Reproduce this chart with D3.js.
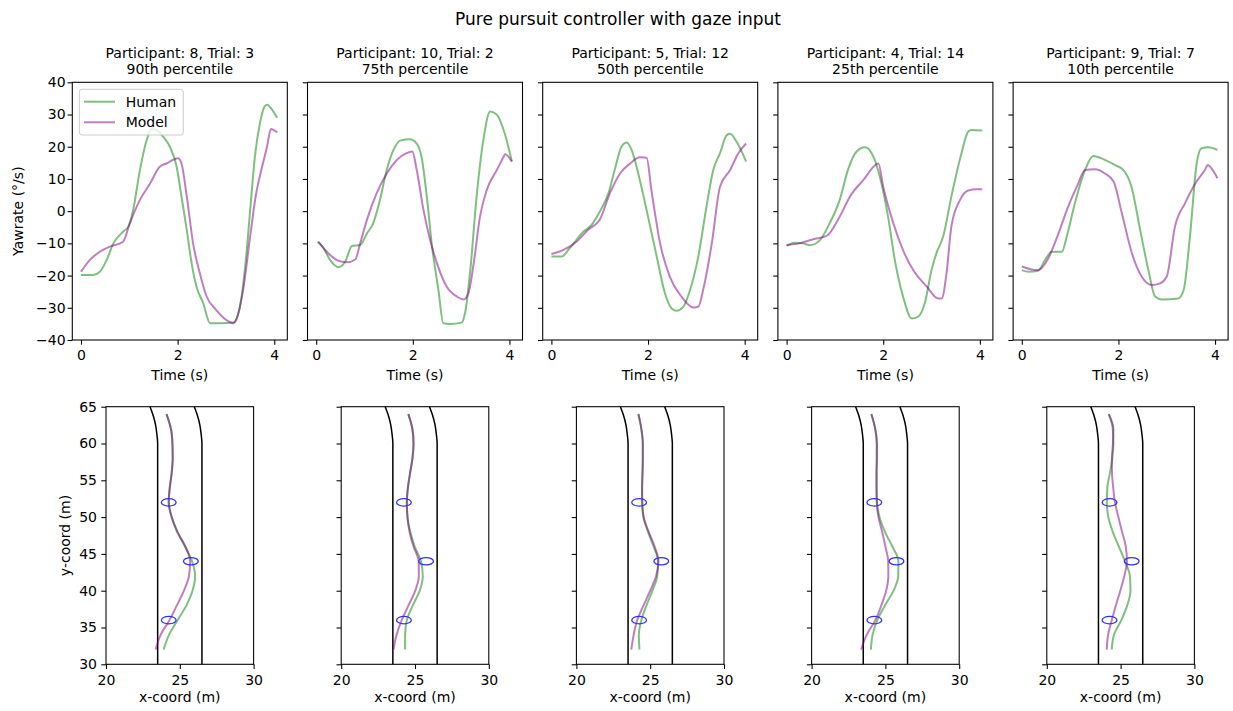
<!DOCTYPE html>
<html>
<head>
<meta charset="utf-8">
<script src="https://cdn.jsdelivr.net/npm/d3@7"></script>
<style>
  body { margin: 0; background: #fff; }
  svg text { font-family: "DejaVu Sans", sans-serif; fill: #000; }
</style>
</head>
<body>
<div id="chart"></div>
<script>
// --- data ---
var participants = [8, 10, 5, 4, 9];
var trials       = [3, 2, 12, 14, 7];
var percentiles  = ["90th", "75th", "50th", "25th", "10th"];

var timeTicks = [0, 2, 4];
var yawTicks  = [-40, -30, -20, -10, 0, 10, 20, 30, 40];
var xcoordTicks = [20, 25, 30];
var ycoordTicks = [30, 35, 40, 45, 50, 55, 60, 65];

// yaw rate traces [time (s), yawrate (deg/s)]
var humanYaw = [
  [[0,-19.8],[0.25,-19.8],[0.39,-18.8],[0.53,-15.2],[0.67,-10],[0.87,-6.4],[0.98,-4.8],[1.08,0.4],[1.22,12.8],[1.36,22.1],[1.46,25.5],[1.56,25.2],[1.70,23.1],[1.84,20],[1.98,13.8],[2.08,4.5],[2.19,-5.9],[2.29,-16.2],[2.39,-23.4],[2.53,-28.6],[2.67,-34.8],[2.88,-34.8],[3.15,-34.6],[3.29,-29.6],[3.40,-17],[3.50,0],[3.60,17],[3.70,27],[3.80,32.5],[3.86,33],[3.93,32],[4.06,29]],
  [[0.03,-9.5],[0.15,-11.5],[0.29,-15.2],[0.46,-17.4],[0.6,-15.7],[0.74,-10.8],[0.91,-10.5],[1.05,-6.9],[1.18,-3.8],[1.32,3.5],[1.46,12.8],[1.6,19],[1.74,21.9],[1.94,22.3],[2.08,21],[2.18,16.9],[2.29,4.5],[2.39,-10],[2.53,-24.5],[2.63,-34.8],[2.77,-35],[3.01,-34.6],[3.08,-31.7],[3.19,-18.2],[3.32,4.5],[3.46,22.1],[3.6,30.9],[3.74,29.9],[3.88,25.2],[4.05,15.4]],
  [[0,-14.1],[0.21,-14.1],[0.38,-11.5],[0.66,-6.4],[0.83,-4.3],[1.0,-0.2],[1.18,5.5],[1.31,12.8],[1.45,20],[1.56,21.3],[1.66,19],[1.83,9.7],[2.0,-1.7],[2.18,-14.1],[2.35,-25.5],[2.49,-30.2],[2.59,-30.9],[2.73,-29.7],[2.87,-24.5],[3.04,-14.1],[3.21,1.4],[3.35,12.8],[3.49,18],[3.63,23.6],[3.70,24],[3.83,21.6],[4.03,15.4]],
  [[0,-10.8],[0.17,-9.8],[0.34,-10],[0.48,-10.6],[0.69,-9],[0.89,-3.8],[1.1,3.5],[1.27,12.8],[1.45,18.5],[1.62,19.8],[1.76,18],[1.93,10.7],[2.1,-1.7],[2.24,-15.2],[2.41,-26.5],[2.59,-33.3],[2.72,-32.8],[2.86,-28.6],[3.0,-18.3],[3.1,-13.1],[3.24,-7.9],[3.41,4.5],[3.62,18],[3.76,24.7],[3.83,25.2],[4.05,25]],
  [[0,-18.3],[0.14,-18.8],[0.34,-18.5],[0.48,-15.2],[0.62,-12.6],[0.83,-12.6],[0.93,-7.9],[1.1,2.5],[1.31,12.8],[1.48,17.1],[1.65,16.4],[1.93,14.3],[2.1,12.8],[2.27,7.6],[2.45,-5.8],[2.62,-18.3],[2.76,-26.5],[2.9,-27.4],[3.24,-27.1],[3.35,-24.5],[3.48,-7.9],[3.62,14.8],[3.72,19.5],[3.86,19.8],[4.05,19]]
];
var modelYaw = [
  [[0,-18.8],[0.18,-15.2],[0.39,-12.6],[0.6,-11],[0.87,-9.5],[1.01,-3.8],[1.22,3.5],[1.43,8.6],[1.63,13.8],[1.77,14.8],[2.01,16.4],[2.08,14.8],[2.19,4.5],[2.32,-10],[2.46,-19.3],[2.6,-26.5],[2.8,-30.7],[3.01,-33.8],[3.15,-34.8],[3.22,-33.5],[3.35,-25],[3.5,-8],[3.62,5],[3.72,12],[3.85,20],[3.93,25.5],[4.06,24.4]],
  [[0.05,-9.5],[0.22,-12.6],[0.43,-15.2],[0.63,-15.9],[0.81,-15],[0.91,-10],[1.05,-2.7],[1.25,5.5],[1.46,11.7],[1.67,15.9],[1.87,18],[1.99,18.5],[2.08,12.8],[2.22,0.4],[2.36,-9],[2.5,-16.2],[2.7,-23.4],[2.91,-26.5],[3.05,-27.4],[3.15,-25.5],[3.26,-16.2],[3.39,-1.7],[3.53,6.6],[3.74,12.8],[3.88,16.9],[3.91,17.7],[4.05,15.4]],
  [[0,-13.3],[0.24,-12.1],[0.52,-9.5],[0.76,-5.8],[1.0,-2.7],[1.21,5.5],[1.42,11.7],[1.63,14.8],[1.83,16.7],[1.97,16.6],[2.07,6.6],[2.25,-10],[2.45,-20.3],[2.69,-26.5],[2.94,-29.9],[3.04,-29.7],[3.14,-24.5],[3.32,-10],[3.49,7.6],[3.70,12.8],[3.87,18],[4.03,21]],
  [[0,-10.5],[0.26,-10],[0.55,-8.7],[0.83,-7.7],[1.1,-1.7],[1.31,4.5],[1.59,9.7],[1.9,14.8],[2.0,7.6],[2.21,-3.8],[2.41,-12.1],[2.62,-18.3],[2.9,-23.4],[3.14,-27.1],[3.21,-27.1],[3.31,-19.3],[3.41,-4.8],[3.59,3.5],[3.76,6.4],[3.93,6.8],[4.05,6.8]],
  [[0,-17.2],[0.2,-18.1],[0.34,-18.3],[0.55,-14.6],[0.76,-6.9],[0.96,1.4],[1.14,7.6],[1.31,12.8],[1.52,13],[1.72,11.7],[1.9,9.2],[2.07,-0.6],[2.28,-13.1],[2.48,-20.3],[2.69,-22.9],[2.86,-22.4],[3.0,-20.3],[3.17,-4.8],[3.38,2.5],[3.59,8.6],[3.79,12.8],[3.85,14.3],[3.93,13.2],[4.05,10.2]]
];

// driven paths: x-coord at each y-coord
var pathY = [32, 34, 36, 38, 40, 42, 44, 46, 48, 50, 52, 54, 56, 58, 60, 62, 64];
var humanPathX = [
  [23.9,24.27,24.85,25.45,25.86,26.04,25.83,25.35,24.85,24.45,24.25,24.32,24.45,24.52,24.5,24.4,24.1],
  [24.33,24.33,24.45,24.85,25.32,25.53,25.4,24.98,24.68,24.49,24.45,24.52,24.67,24.83,24.9,24.82,24.55],
  [24.27,24.23,24.4,24.75,25.15,25.48,25.53,25.23,24.85,24.54,24.46,24.45,24.48,24.5,24.5,24.4,24.2],
  [24.02,24.13,24.45,24.97,25.55,25.87,25.88,25.47,24.97,24.6,24.43,24.4,24.4,24.42,24.42,24.31,24.05],
  [24.4,24.55,25.05,25.45,25.67,25.63,25.3,24.88,24.47,24.17,24.07,24.1,24.28,24.44,24.51,24.47,24.2]
];
var modelPathX = [
  [23.36,23.7,24.3,24.8,25.28,25.62,25.7,25.38,24.82,24.45,24.25,24.32,24.45,24.52,24.5,24.4,24.1],
  [23.54,23.75,24.1,24.56,25.02,25.26,25.25,24.9,24.63,24.49,24.45,24.52,24.67,24.83,24.9,24.82,24.55],
  [23.72,23.88,24.12,24.55,25.0,25.4,25.56,25.3,24.9,24.56,24.46,24.45,24.48,24.5,24.5,24.4,24.2],
  [23.36,23.73,24.32,24.72,25.05,25.2,25.19,25.0,24.78,24.53,24.42,24.4,24.4,24.42,24.42,24.31,24.05],
  [24.06,24.15,24.4,24.68,24.98,25.25,25.43,25.35,25.1,24.85,24.62,24.5,24.42,24.41,24.48,24.51,24.2]
];

// road edges [x, y]
var roadLeft  = [[23.5,30],[23.5,60],[23.45,61.2],[23.36,62.5],[23.18,63.9],[22.98,65]];
var roadRight = [[26.5,30],[26.5,60],[26.45,61.2],[26.36,62.5],[26.18,63.9],[25.98,65]];

// gaze fixation points, radius in metres
var gazeX = [24.25, 25.75, 24.25];
var gazeY = [52, 44, 36];
var gazeR = 0.5;

var humanColor = "#008000", modelColor = "#800080";

// --- layout ---
var width = 1233, height = 711;
var topLeft = 72.3, colStep = 235.2;
var topW = 215, topY = 82.3, topH = 257.7;
var botW = 147.6, botY = 406.7, botH = 257.6;

var svg = d3.select("#chart").append("svg")
  .attr("width", width)
  .attr("height", height);

svg.append("text")
  .attr("x", 618).attr("y", 25)
  .attr("text-anchor", "middle")
  .style("font-size", "17px")
  .text("Pure pursuit controller with gaze input");

function styleAxis(g) {
  g.select(".domain").remove();
  g.selectAll(".tick line").attr("stroke", "#000").attr("stroke-width", 1.07);
  g.selectAll(".tick text").style("font-size", "14px").style("font-family", "DejaVu Sans, sans-serif");
}

function drawFrame(g, w, h) {
  g.append("rect")
    .attr("width", w).attr("height", h)
    .attr("fill", "none")
    .attr("stroke", "#000")
    .attr("stroke-width", 1.07);
}

participants.forEach(function(p, i) {
  var gx = topLeft + i * colStep;

  // ---- top row: yaw rate vs time ----
  var x = d3.scaleLinear().domain([-0.18, 4.27]).range([0, topW]);
  var y = d3.scaleLinear().domain([-40, 40]).range([topH, 0]);
  var g = svg.append("g").attr("transform", "translate(" + gx + "," + topY + ")");

  var line = d3.line()
    .x(function(d) { return x(d[0]); })
    .y(function(d) { return y(d[1]); })
    .curve(d3.curveMonotoneX);

  g.append("path").datum(humanYaw[i])
    .attr("d", line).attr("fill", "none")
    .attr("stroke", humanColor).attr("stroke-opacity", 0.5).attr("stroke-width", 2);
  g.append("path").datum(modelYaw[i])
    .attr("d", line).attr("fill", "none")
    .attr("stroke", modelColor).attr("stroke-opacity", 0.5).attr("stroke-width", 2);

  g.append("g").attr("transform", "translate(0," + topH + ")")
    .call(d3.axisBottom(x).tickValues(timeTicks).tickFormat(d3.format("d")).tickSize(4.7).tickPadding(5.3))
    .call(styleAxis);
  g.append("g")
    .call(d3.axisLeft(y).tickValues(yawTicks).tickSize(4.7).tickPadding(2)
      .tickFormat(i === 0 ? d3.format("d") : function() { return ""; }))
    .call(styleAxis);

  drawFrame(g, topW, topH);

  g.append("text")
    .attr("x", topW / 2).attr("y", 380 - topY)
    .attr("text-anchor", "middle").style("font-size", "14px")
    .text("Time (s)");

  svg.append("text")
    .attr("x", gx + topW / 2).attr("y", 58)
    .attr("text-anchor", "middle").style("font-size", "14px")
    .text("Participant: " + p + ", Trial: " + trials[i]);
  svg.append("text")
    .attr("x", gx + topW / 2).attr("y", 74)
    .attr("text-anchor", "middle").style("font-size", "14px")
    .text(percentiles[i] + " percentile");

  if (i === 0) {
    svg.append("text")
      .attr("transform", "translate(22.5," + (topY + topH / 2) + ") rotate(-90)")
      .attr("text-anchor", "middle").style("font-size", "14px")
      .text("Yawrate (°/s)");

    // legend
    var leg = g.append("g").attr("transform", "translate(7,7)");
    leg.append("rect")
      .attr("width", 104).attr("height", 45.7).attr("rx", 2.8)
      .attr("fill", "#fff").attr("fill-opacity", 0.8)
      .attr("stroke", "#cccccc").attr("stroke-width", 1);
    [["Human", humanColor], ["Model", modelColor]].forEach(function(e, k) {
      var ly = 12.4 + k * 20.6;
      leg.append("line")
        .attr("x1", 4.7).attr("x2", 35.7).attr("y1", ly).attr("y2", ly)
        .attr("stroke", e[1]).attr("stroke-opacity", 0.5).attr("stroke-width", 2);
      leg.append("text")
        .attr("x", 46.4).attr("y", ly + 5)
        .style("font-size", "14px")
        .text(e[0]);
    });
  }

  // ---- bottom row: driven path ----
  var bx0 = gx + topW / 2 - botW / 2;
  var bx = d3.scaleLinear().domain([20, 30]).range([0, botW]);
  var by = d3.scaleLinear().domain([30, 65]).range([botH, 0]);
  var b = svg.append("g").attr("transform", "translate(" + bx0 + "," + botY + ")");

  var pathLine = d3.line()
    .x(function(d) { return bx(d[0]); })
    .y(function(d) { return by(d[1]); })
    .curve(d3.curveMonotoneY);

  [roadLeft, roadRight].forEach(function(edge) {
    b.append("path").datum(edge)
      .attr("d", pathLine).attr("fill", "none")
      .attr("stroke", "#000").attr("stroke-width", 1.5);
  });

  var human = pathY.map(function(yy, k) { return [humanPathX[i][k], yy]; });
  var model = pathY.map(function(yy, k) { return [modelPathX[i][k], yy]; });
  b.append("path").datum(human)
    .attr("d", pathLine).attr("fill", "none")
    .attr("stroke", humanColor).attr("stroke-opacity", 0.5).attr("stroke-width", 2);
  b.append("path").datum(model)
    .attr("d", pathLine).attr("fill", "none")
    .attr("stroke", modelColor).attr("stroke-opacity", 0.5).attr("stroke-width", 2);

  b.selectAll(".gaze")
    .data(gazeX)
    .enter().append("ellipse")
    .attr("class", "gaze")
    .attr("cx", function(d) { return bx(d); })
    .attr("cy", function(d, k) { return by(gazeY[k]); })
    .attr("rx", bx(20 + gazeR) - bx(20))
    .attr("ry", by(30) - by(30 + gazeR))
    .attr("fill", "none")
    .attr("stroke", "#3030ff")
    .attr("stroke-width", 1.3);

  b.append("g").attr("transform", "translate(0," + botH + ")")
    .call(d3.axisBottom(bx).tickValues(xcoordTicks).tickFormat(d3.format("d")).tickSize(4.7).tickPadding(6))
    .call(styleAxis);
  b.append("g")
    .call(d3.axisLeft(by).tickValues(ycoordTicks).tickSize(4.7).tickPadding(4.3)
      .tickFormat(i === 0 ? d3.format("d") : function() { return ""; }))
    .call(styleAxis);

  drawFrame(b, botW, botH);

  b.append("text")
    .attr("x", botW / 2).attr("y", 702 - botY)
    .attr("text-anchor", "middle").style("font-size", "14px")
    .text("x-coord (m)");

  if (i === 0) {
    svg.append("text")
      .attr("transform", "translate(69.5," + (botY + botH / 2) + ") rotate(-90)")
      .attr("text-anchor", "middle").style("font-size", "14px")
      .text("y-coord (m)");
  }
});
</script>
</body>
</html>
